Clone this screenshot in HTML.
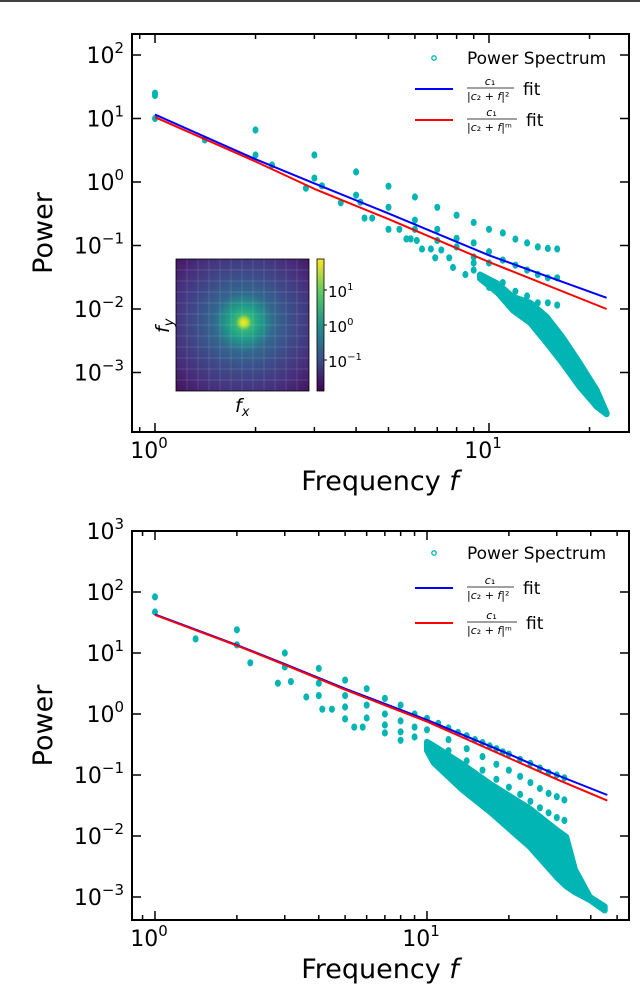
<!DOCTYPE html>
<html><head><meta charset="utf-8">
<style>
html,body{margin:0;padding:0;background:#fff;}
svg{display:block;font-family:"DejaVu Sans","Liberation Sans",sans-serif;}
</style></head>
<body>
<svg id="fig" width="640" height="995" viewBox="0 0 640 995">
<defs>
<radialGradient id="heat" cx="0.51" cy="0.48" r="0.75">
<stop offset="0" stop-color="#fde725"/>
<stop offset="0.04" stop-color="#b5de2b"/>
<stop offset="0.08" stop-color="#35b779"/>
<stop offset="0.16" stop-color="#1f9e89"/>
<stop offset="0.3" stop-color="#31688e"/>
<stop offset="0.5" stop-color="#3e4a89"/>
<stop offset="0.75" stop-color="#472d7b"/>
<stop offset="1" stop-color="#440e57"/>
</radialGradient>
<linearGradient id="cbar" x1="0" y1="1" x2="0" y2="0">
<stop offset="0" stop-color="#440154"/>
<stop offset="0.25" stop-color="#3b528b"/>
<stop offset="0.5" stop-color="#21918c"/>
<stop offset="0.75" stop-color="#5ec962"/>
<stop offset="1" stop-color="#fde725"/>
</linearGradient>
</defs>
<line x1="0" y1="1" x2="640" y2="1" stroke="#000" stroke-width="1.5"/>
</svg>
<script>
// ===== Top chart data =====
const topPtsF = [1,1,1,1.41,2,2,2.24,2.83,3,3,3.16,3.6,4,4,4.12,4.24,4.47,5,5,5,5.39,5.66,5.83,6,6,6,6.08,6.3,6.7,7,7,7,7.2,6.9,7.6,8,8,8,7.8,8.5,9,9,9,9,9,10,10,10,10,11,11,11,12,12,12,13,13,13,14,14,14,15,15,15,16,16,16];
const topPtsP = [25,23,10,4.6,6.6,2.66,1.85,0.8,2.66,1.15,0.87,0.47,1.44,0.62,0.48,0.27,0.27,0.86,0.4,0.18,0.18,0.127,0.127,0.58,0.25,0.18,0.12,0.088,0.088,0.40,0.18,0.12,0.085,0.064,0.064,0.30,0.13,0.095,0.045,0.035,0.23,0.11,0.066,0.053,0.041,0.18,0.08,0.053,0.022,0.158,0.059,0.026,0.126,0.049,0.019,0.11,0.041,0.016,0.095,0.035,0.0125,0.09,0.031,0.0125,0.088,0.031,0.0115];
const topBandF  = [9.4,10.6,11.8,13.3,14.9,16.6,18.7,21.0,22.5];
const topBandHi = [0.035,0.025,0.0155,0.0125,0.0075,0.0036,0.0014,0.00053,0.00023];
const topBandLo = [0.03,0.018,0.0095,0.006,0.0029,0.0014,0.00059,0.00029,0.00022];
const topFitF = [1,2,3,5,10,22.5];
const topBlue = [11.5,2.29,0.95,0.32,0.07,0.015];
const topRed  = [10.5,2.1,0.78,0.26,0.055,0.010];
const topYTicks = ["10^2","10^1","10^0","10^-1","10^-2","10^-3"];
const topYExp = [2,1,0,-1,-2,-3];
// ===== Bottom chart data =====
const botPtsF = [1,1,1.41,2,2,2.24,2.83,3,3,3.16,3.6,4,4,4,4.12,4.47,5,5,5,5,5.4,5.8,6,6,6,7,7,7,7,8,8,8,8,9,9,9];
const botPtsP = [83,47,17,24,13.6,6.9,3.2,10,5.9,3.4,1.9,5.6,3.2,2.0,1.2,1.2,3.6,2.0,1.3,0.83,0.61,0.61,2.6,1.4,0.86,1.8,1.0,0.66,0.49,1.4,0.77,0.51,0.37,1.0,0.61,0.42];
const botRow1F = [10,11,12,13,14,15,16,17,18,19,20,22,24,26,28,30,32];
const botRow1P = [0.85,0.70,0.59,0.50,0.44,0.38,0.34,0.30,0.27,0.24,0.22,0.18,0.155,0.13,0.11,0.1,0.09];
const botRow2F = [10,12,14,16,18,20,22,24,26,28,30,32];
const botRow2P = [0.55,0.38,0.27,0.2,0.15,0.12,0.095,0.075,0.06,0.05,0.044,0.039];
const botRow3F = [12,14,16,18,20,22,24,26,28,30,32];
const botRow3P = [0.25,0.17,0.12,0.085,0.063,0.048,0.037,0.029,0.024,0.02,0.018];
const botBandF  = [10,10.6,13.5,17.2,23.9,30,32.5,35,39.7,45];
const botBandHi = [0.35,0.3,0.15,0.07,0.028,0.0125,0.0097,0.0028,0.001,0.0007];
const botBandLo = [0.25,0.157,0.057,0.024,0.0066,0.0021,0.0015,0.0012,0.00089,0.0006];
const botFitF = [1,2,3,5,10,20,30,46];
const botBlue = [43,13.5,6.6,2.6,0.8,0.22,0.1,0.047];
const botRed  = [42,13.2,6.4,2.5,0.75,0.19,0.085,0.038];
const botYTicks = ["10^3","10^2","10^1","10^0","10^-1","10^-2","10^-3"];
const botYExp = [3,2,1,0,-1,-2,-3];
const xTicks = ["10^0","10^1"];
const xExp = [0,1];

const NS="http://www.w3.org/2000/svg";
const svg=document.getElementById('fig');
function mk(tag,attrs,parent){const e=document.createElementNS(NS,tag);for(const k in attrs)e.setAttribute(k,attrs[k]);(parent||svg).appendChild(e);return e;}
const CYAN="#00b5b3";

function drawPanel(cfg,pfx){
  const X=f=>cfg.x0+cfg.xd*Math.log10(f);
  const Y=p=>cfg.y0-cfg.yd*Math.log10(p);
  const g=mk('g',{});
  
  
  const clip=mk('clipPath',{id:pfx+'clip'},g);
  mk('rect',{x:cfg.L,y:cfg.T,width:cfg.R-cfg.L,height:cfg.B-cfg.T},clip);
  const data=mk('g',{'clip-path':'url(#'+pfx+'clip)'},g);
  const pts=[];
  cfg.bandF.forEach((f,i)=>pts.push(X(f).toFixed(1)+','+Y(cfg.bandHi[i]).toFixed(1)));
  for(let i=cfg.bandF.length-1;i>=0;i--)pts.push(X(cfg.bandF[i]).toFixed(1)+','+Y(cfg.bandLo[i]).toFixed(1));
  const band=mk('polygon',{points:pts.join(' '),fill:CYAN,stroke:CYAN,'stroke-width':6,'stroke-linejoin':'round'},data);
  
  
  cfg.ptSets.forEach(s=>{s[0].forEach((f,i)=>{
    const c=mk('ellipse',{cx:X(f).toFixed(1),cy:Y(s[1][i]).toFixed(1),rx:3,ry:3.6,fill:CYAN},data);
    
    
  });});
  [['#0000ff',cfg.blue,'fit-squared'],['#ff0000',cfg.red,'fit-power-m']].forEach(([col,vals,nm])=>{
    const d=cfg.fitF.map((f,i)=>(i?'L':'M')+X(f).toFixed(1)+','+Y(vals[i]).toFixed(1)).join(' ');
    const p=mk('path',{d:d,fill:'none',stroke:col,'stroke-width':2,'stroke-linejoin':'round'},data);
    
    
  });
  const fr=mk('rect',{x:cfg.L,y:cfg.T,width:cfg.R-cfg.L,height:cfg.B-cfg.T,fill:'none',stroke:'#000','stroke-width':2},g);
  
  
  cfg.yExp.forEach((e,i)=>{
    const y=Y(Math.pow(10,e));
    mk('line',{x1:cfg.L,y1:y,x2:cfg.L+9,y2:y,stroke:'#000','stroke-width':1.5},g);
    mk('line',{x1:cfg.R,y1:y,x2:cfg.R-9,y2:y,stroke:'#000','stroke-width':1.5},g);
    const t=mk('text',{x:cfg.L-8,y:y+8,'text-anchor':'end','font-size':22},g);
    const parts=cfg.yTicks[i].split('^');
    t.textContent=parts[0];
    const s=mk('tspan',{dy:-10,'font-size':15},t);s.textContent=parts[1].replace('-','\u2212');
    
    
  });
  for(let d=-1;d<=2;d++)for(let m=1;m<=9;m++){
    const f=m*Math.pow(10,d);const x=X(f);
    if(x<cfg.L+1||x>cfg.R-1)continue;
    const len=m===1?9:5;
    mk('line',{x1:x,y1:cfg.B,x2:x,y2:cfg.B-len,stroke:'#000','stroke-width':1.5},g);
    mk('line',{x1:x,y1:cfg.T,x2:x,y2:cfg.T+len,stroke:'#000','stroke-width':1.5},g);
  }
  xExp.forEach((e,i)=>{
    const x=X(Math.pow(10,e));
    const t=mk('text',{x:x-6,y:cfg.B+26,'text-anchor':'middle','font-size':22},g);
    const parts=xTicks[i].split('^');t.textContent=parts[0];
    const s=mk('tspan',{dy:-10,'font-size':15},t);s.textContent=parts[1];
    
    
  });
  const yt=mk('text',{x:0,y:0,transform:`translate(${cfg.ylx},${(cfg.T+cfg.B)/2}) rotate(-90)`,'text-anchor':'middle','font-size':27},g);
  yt.textContent='Power';
  
  
  const xt=mk('text',{x:380,y:cfg.B+58,'text-anchor':'middle','font-size':27},g);
  xt.textContent='Frequency ';
  const fi=mk('tspan',{'font-style':'italic'},xt);fi.textContent='f';
  
  
  const lg=mk('g',{},g);
  
  
  const ly=cfg.legY;
  mk('circle',{cx:434,cy:ly,r:2.2,fill:'none',stroke:CYAN,'stroke-width':1.3},lg);
  const lt=mk('text',{x:467,y:ly+6,'font-size':17},lg);lt.textContent='Power Spectrum';
  
  
  [['#0000ff',ly+cfg.legGap,'\u00b2','blue',0],['#ff0000',ly+2*cfg.legGap,'\u1d50','red',3]].forEach(([col,yy,ex,nm,ext])=>{
    mk('line',{x1:415,y1:yy,x2:453,y2:yy,stroke:col,'stroke-width':2},lg);
    const n=mk('text',{x:490+ext/2,y:yy-4,'font-size':11,'text-anchor':'middle'},lg);
    const nc=mk('tspan',{'font-style':'italic'},n);nc.textContent='c';
    const n1=mk('tspan',{},n);n1.textContent='\u2081';
    mk('line',{x1:467,y1:yy-1,x2:514+ext,y2:yy-1,stroke:'#000','stroke-width':0.8},lg);
    const dn=mk('text',{x:467,y:yy+11,'font-size':11},lg);
    const p1=mk('tspan',{},dn);p1.textContent='|';
    const a=mk('tspan',{'font-style':'italic'},dn);a.textContent='c';
    const b=mk('tspan',{},dn);b.textContent='\u2082 + ';
    const d=mk('tspan',{'font-style':'italic'},dn);d.textContent='f';
    const e=mk('tspan',{},dn);e.textContent='|'+ex;
    const ft=mk('text',{x:523+ext,y:yy+6,'font-size':17},lg);ft.textContent='fit';
    
    
  });
}

drawPanel({L:132,R:629,T:34,B:432,x0:155,xd:334,y0:182,yd:63.5,
  bandF:topBandF,bandHi:topBandHi,bandLo:topBandLo,ptSets:[[topPtsF,topPtsP]],
  fitF:topFitF,blue:topBlue,red:topRed,yTicks:topYTicks,yExp:topYExp,ylx:52,legY:58,legGap:31},'top');
drawPanel({L:132,R:629,T:531,B:920,x0:155,xd:272,y0:714,yd:61,
  bandF:botBandF,bandHi:botBandHi,bandLo:botBandLo,ptSets:[[botPtsF,botPtsP],[botRow1F,botRow1P],[botRow2F,botRow2P],[botRow3F,botRow3P]],
  fitF:botFitF,blue:botBlue,red:botRed,yTicks:botYTicks,yExp:botYExp,ylx:52,legY:553,legGap:35},'bottom');

const ins=mk('g',{});


mk('rect',{x:176,y:259,width:133,height:132,fill:'url(#heat)'},ins);
for(let i=1;i<12;i++){
  const v=176+i*11;const h=259+i*11;
  mk('line',{x1:v,y1:259,x2:v,y2:391,stroke:'#ffffff','stroke-opacity':0.12,'stroke-width':1},ins);
  mk('line',{x1:176,y1:h,x2:309,y2:h,stroke:'#ffffff','stroke-opacity':0.12,'stroke-width':1},ins);
}
mk('rect',{x:176,y:259,width:133,height:132,fill:'none',stroke:'#000','stroke-width':0.8},ins);
const cb=mk('rect',{x:317,y:259,width:7,height:132,fill:'url(#cbar)',stroke:'#000','stroke-width':0.8});


[['1',297],['0',332],['\u22121',367]].forEach(([e,y])=>{
  mk('line',{x1:324,y1:y-7,x2:327,y2:y-7,stroke:'#000'});
  const t=mk('text',{x:328,y:y,'font-size':15});t.textContent='10';
  const s=mk('tspan',{dy:-7,'font-size':10},t);s.textContent=e;
  
  
});
const fx=mk('text',{x:235,y:412,'font-size':19,'font-style':'italic'});fx.textContent='f';
const fxs=mk('tspan',{'font-size':13,dy:4},fx);fxs.textContent='x';


const fy=mk('text',{x:0,y:0,transform:'translate(169,333) rotate(-90)','font-size':19,'font-style':'italic'});fy.textContent='f';
const fys=mk('tspan',{'font-size':13,dy:4},fy);fys.textContent='y';


</script>
</body></html>
